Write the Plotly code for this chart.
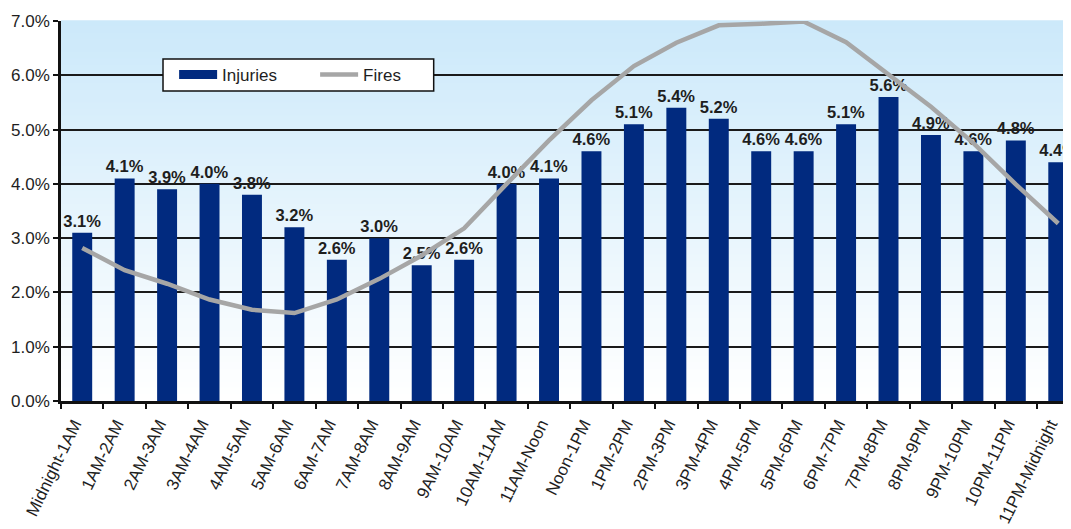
import plotly.graph_objects as go

categories = ["Midnight-1AM", "1AM-2AM", "2AM-3AM", "3AM-4AM", "4AM-5AM", "5AM-6AM",
              "6AM-7AM", "7AM-8AM", "8AM-9AM", "9AM-10AM", "10AM-11AM", "11AM-Noon",
              "Noon-1PM", "1PM-2PM", "2PM-3PM", "3PM-4PM", "4PM-5PM", "5PM-6PM",
              "6PM-7PM", "7PM-8PM", "8PM-9PM", "9PM-10PM", "10PM-11PM", "11PM-Midnight"]
injuries = [3.1, 4.1, 3.9, 4.0, 3.8, 3.2, 2.6, 3.0, 2.5, 2.6, 4.0, 4.1,
            4.6, 5.1, 5.4, 5.2, 4.6, 4.6, 5.1, 5.6, 4.9, 4.6, 4.8, 4.4]
fires = [2.82, 2.41, 2.16, 1.87, 1.68, 1.62, 1.87, 2.25, 2.68, 3.18, 4.0, 4.8,
         5.54, 6.17, 6.6, 6.92, 6.95, 6.99, 6.61, 6.02, 5.42, 4.75, 3.99, 3.27]
y_ticks = [0, 1, 2, 3, 4, 5, 6, 7]

NAVY = "#012a7f"
GRAY = "#a6a6a6"
TXT = "#1e1e1e"
FONT = "Liberation Sans, Arial, sans-serif"

fig = go.Figure()
fig.add_trace(go.Bar(
    x=categories, y=injuries, name="Injuries", width=0.47,
    marker=dict(color=NAVY, line=dict(width=0)),
    text=[f"{v:.1f}%" for v in injuries], textposition="outside",
    constraintext="none",
    textfont=dict(family=FONT, size=16.5, color=TXT, weight="bold"),
    cliponaxis=False, showlegend=False,
))
fig.add_trace(go.Scatter(
    x=[None], y=[None], mode="lines", name="Injuries",
    line=dict(color=NAVY, width=9), showlegend=True,
))
fig.add_trace(go.Scatter(
    x=categories, y=fires, mode="lines", name="Fires",
    line=dict(color=GRAY, width=4.5), cliponaxis=False,
))

# vertical gradient background (light blue top -> white bottom)
n = 60
top = (204, 233, 250)
bot = (255, 255, 255)
shapes = []
for i in range(n):
    t = i / (n - 1)
    c = tuple(round(top[k] + (bot[k] - top[k]) * t) for k in range(3))
    shapes.append(dict(type="rect", xref="paper", yref="paper", x0=0, x1=1,
                       y0=1 - (i + 1) / n, y1=1 - i / n + 0.002,
                       fillcolor=f"rgb{c}", line=dict(width=0), layer="below"))
# legend box
shapes.append(dict(type="rect", xref="paper", yref="paper",
                   x0=0.101, x1=0.369, y0=0.816, y1=0.900,
                   fillcolor="white", line=dict(color="#111", width=1.5), layer="above"))

fig.update_layout(
    width=1063, height=521,
    margin=dict(l=53, r=0, t=13, b=128),
    paper_bgcolor="white", plot_bgcolor="white",
    shapes=shapes,
    font=dict(family=FONT, color=TXT),
    legend=dict(
        orientation="h", x=0.112, y=0.858, xanchor="left", yanchor="middle",
        bgcolor="rgba(0,0,0,0)", borderwidth=0,
        font=dict(size=17, color=TXT), itemwidth=38,
        entrywidth=88, entrywidthmode="pixels",
        traceorder="normal",
    ),
    xaxis=dict(
        type="category", range=[-0.5, 23.3], automargin=False,
        tickangle=-64, tickfont=dict(size=17, color=TXT), ticklabelshift=-8,
        ticklabelstandoff=4,
        showline=True, linecolor="#111", linewidth=2.5,
        ticks="outside", tickson="boundaries", ticklen=5, tickcolor="#111", tickwidth=1.5,
        showgrid=False, zeroline=False,
    ),
    yaxis=dict(
        range=[0, 7], tickvals=y_ticks, ticktext=[f"{v:.1f}%" for v in y_ticks],
        automargin=False,
        tickfont=dict(size=17, color=TXT),
        showline=True, linecolor="#111", linewidth=2.5,
        ticks="outside", ticklen=5, tickcolor="#111", tickwidth=1.5,
        showgrid=True, gridcolor="#1a1a1a", gridwidth=1.5, zeroline=False,
    ),
)

fig.write_html("out.html")
